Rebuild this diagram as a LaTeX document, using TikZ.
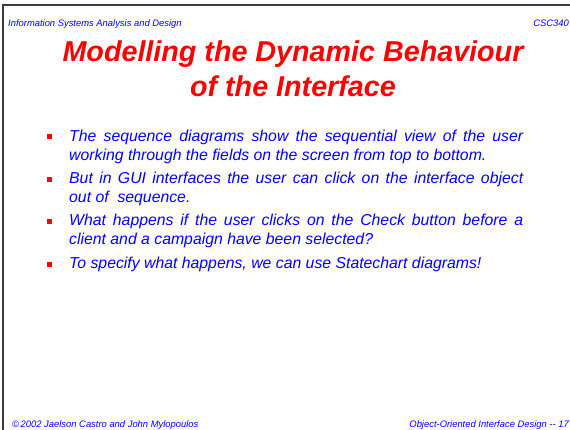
\documentclass[tikz,border=0pt]{standalone}
\usepackage{fontspec}
\setmainfont{Liberation Sans}
\usepackage{xcolor}
\usetikzlibrary{positioning}
\definecolor{slideblue}{RGB}{0,0,255}
\definecolor{slidered}{RGB}{255,0,0}
\definecolor{framegray}{RGB}{60,60,60}

\begin{document}
\begin{tikzpicture}[
  x=1pt, y=-1pt,
  node distance=4pt,
  small/.style={inner sep=0, text=slideblue, font=\fontsize{9.4}{11}\selectfont\itshape},
  title/.style={inner sep=0, anchor=base, text=slidered, font=\fontsize{28.7}{34}\selectfont\bfseries\itshape},
  item/.style={inner sep=0, text width=454pt, align=justify, text=slideblue, font=\fontsize{15.8}{19}\selectfont\itshape},
  sq/.style={fill=slidered, inner sep=0, minimum size=5pt}
]
\useasboundingbox (0,0) rectangle (570,430);
\draw[framegray, line width=1.2pt] (3,431) -- (3,5) -- (571,5);

\node[small, anchor=base west] (course) at (8,26.5) {Information Systems Analysis and Design};
\node[small, anchor=base east] (code) at (569,26.5) {CSC340};

\node[title] (title1) at (293,62) {Modelling the Dynamic Behaviour};
\node[title] (title2) at (293,97) {of the Interface};

\node[item, anchor=north west] (b1) at (69,127.7) {\strut The sequence diagrams show the sequential view of the user\linebreak working through the fields on the screen from top to bottom.\strut};
\node[item, below=of b1] (b2) {\strut But in GUI interfaces the user can click on the interface object\linebreak out of~ sequence.\strut};
\node[item, below=of b2] (b3) {\strut What happens if the user clicks on the Check button before a\linebreak client and a campaign have been selected?\strut};
\node[item, below=of b3] (b4) {\strut To specify what happens, we can use Statechart diagrams!\strut};
\foreach \b in {b1,b2,b3,b4}
  \node[sq] (sq-\b) at ([shift={(-19.5,9.3)}]\b.north west) {};

\node[small, anchor=base west] (copy) at (12,427) {\textcopyright\,2002 Jaelson Castro and John Mylopoulos};
\node[small, anchor=base east] (page) at (569,427) {Object-Oriented Interface Design -{}- 17};
\end{tikzpicture}
\end{document}
